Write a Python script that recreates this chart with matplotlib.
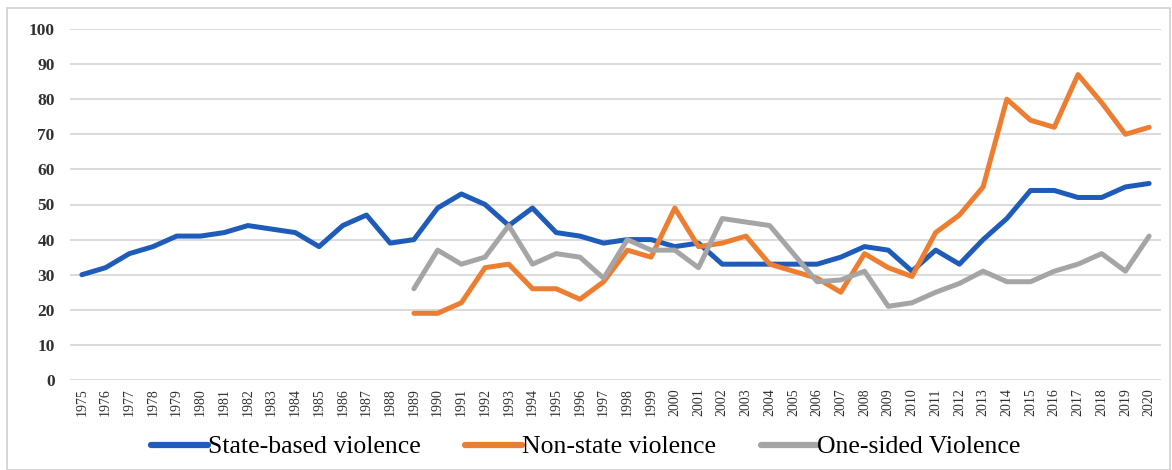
import matplotlib
matplotlib.use('Agg')
import matplotlib.pyplot as plt
from matplotlib.patches import Rectangle

# Data
years = list(range(1975, 2021))
state_based = [30, 32, 36, 38, 41, 41, 42, 44, 43, 42, 38, 44, 47, 39, 40, 49, 53, 50, 44, 49,
               42, 41, 39, 40, 40, 38, 39, 33, 33, 33, 33, 33, 35, 38, 37, 31, 37, 33, 40, 46,
               54, 54, 52, 52, 55, 56]
years_late = list(range(1989, 2021))
non_state = [19, 19, 22, 32, 33, 26, 26, 23, 28, 37, 35, 49, 38, 39, 41, 33, 31, 29, 25, 36,
             32, 29.5, 42, 47, 55, 80, 74, 72, 87, 79, 70, 72]
one_sided = [26, 37, 33, 35, 44, 33, 36, 35, 29, 40, 37, 37, 32, 46, 45, 44, 36, 28, 28.5, 31,
             21, 22, 25, 27.5, 31, 28, 28, 31, 33, 36, 31, 41]
yticks = list(range(0, 101, 10))

BLUE = '#1F5BB8'
ORANGE = '#ED7D31'
GRAY = '#A5A5A5'
GRID = '#D4D4D4'

fig = plt.figure(figsize=(11.72, 4.70), dpi=100)
ax = fig.add_axes([70 / 1172, 1 - 380 / 470, 1091 / 1172, 351 / 470])

# outer chart border
fig.patches.append(Rectangle((7 / 1172, 0), 1163 / 1172, 1 - 8 / 470, transform=fig.transFigure,
                             fill=False, edgecolor='#D0D0D0', lw=1.2))

ax.plot(years, state_based, color=BLUE, lw=3.6, label='State-based violence', solid_capstyle='round')
ax.plot(years_late, non_state, color=ORANGE, lw=3.6, label='Non-state violence', solid_capstyle='round')
ax.plot(years_late, one_sided, color=GRAY, lw=3.6, label='One-sided Violence', solid_capstyle='round')

ax.set_xlim(1974.5, 2020.5)
ax.set_ylim(0, 100)
ax.set_yticks(yticks)
ax.set_xticks(years)
ax.set_xticklabels([str(y) for y in years], rotation=90, fontsize=10,
                   family='Liberation Serif', color='#303030')
ax.set_yticklabels([str(v) for v in yticks], fontsize=12.5, fontweight='bold',
                   family='Liberation Serif', color='#303030')
ax.tick_params(axis='both', length=0)
ax.tick_params(axis='y', pad=11)
ax.tick_params(axis='x', pad=6)
ax.grid(axis='y', color=GRID, lw=1.2)
ax.set_axisbelow(True)
for s in ax.spines.values():
    s.set_visible(False)

leg = fig.legend(loc='center', bbox_to_anchor=(0.5, 1 - 447 / 470), ncol=3, frameon=False,
                 prop={'family': 'Liberation Serif', 'size': 18.5}, handlelength=2.2,
                 handletextpad=0.0, columnspacing=1.75)
for line in leg.get_lines():
    line.set_linewidth(4.5)

fig.savefig('out.png', dpi=100)
